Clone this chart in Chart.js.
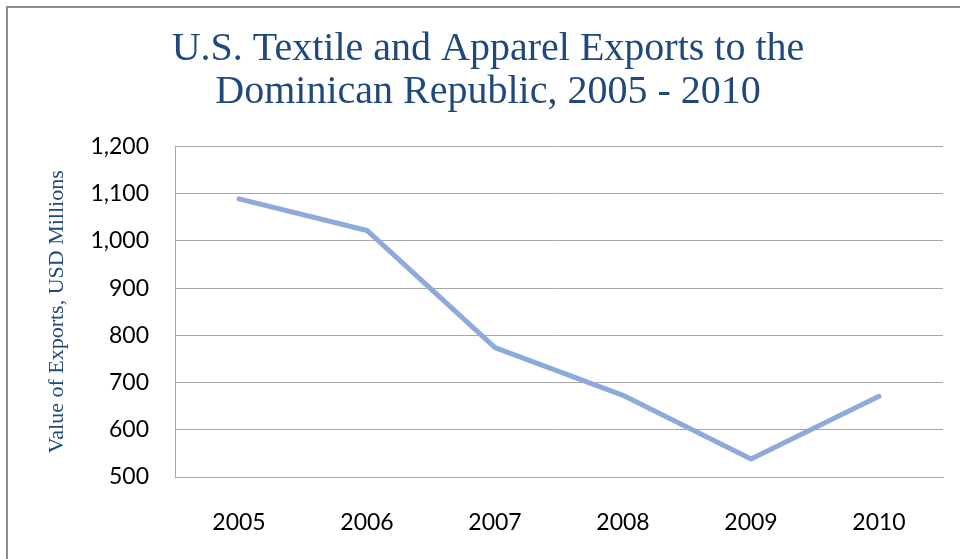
<!DOCTYPE html>
<html>
<head>
<meta charset="utf-8">
<script src="https://cdn.jsdelivr.net/npm/chart.js@4"></script>
<style>
  html, body { margin: 0; padding: 0; background: #fff; }
  #wrap { position: relative; width: 960px; height: 559px; }
  #frame { position: absolute; left: 6px; top: 6px; right: 0; bottom: 0;
           border-top: 2px solid #8c8c8c; border-left: 2px solid #8c8c8c; pointer-events: none; }
</style>
</head>
<body>
<div id="wrap">
  <canvas id="chart" width="960" height="559"></canvas>
  <div id="frame"></div>
</div>
<script>
// ------- Data -------
const years = ['2005', '2006', '2007', '2008', '2009', '2010'];
const exportsUsdMillions = [1089, 1022, 774, 673, 538, 671];
const yTicks = [500, 600, 700, 800, 900, 1000, 1100, 1200];

const titleLines = ['U.S. Textile and Apparel Exports to the', 'Dominican Republic, 2005 - 2010'];
const yAxisTitle = 'Value of Exports, USD Millions';

const navy = '#1F497D';
const gridGray = '#A6A6A6';

new Chart(document.getElementById('chart').getContext('2d'), {
  type: 'line',
  data: {
    labels: years,
    datasets: [{
      data: exportsUsdMillions,
      borderColor: '#8EAADB',
      borderWidth: 5,
      borderCapStyle: 'round',
      borderJoinStyle: 'round',
      pointRadius: 0,
      tension: 0,
      fill: false
    }]
  },
  options: {
    responsive: false,
    animation: false,
    // left padding nudges the title centre to the right, like the original
    layout: { padding: { left: 33, right: 17, top: 0, bottom: 0 } },
    plugins: {
      legend: { display: false },
      tooltip: { enabled: false },
      title: {
        display: true,
        text: titleLines,
        color: navy,
        font: { family: '"Liberation Serif", serif', size: 40, weight: 'normal', lineHeight: 1.08 },
        padding: { top: 28, bottom: 32 }
      }
    },
    scales: {
      x: {
        offset: true,
        grid: { display: false, drawTicks: false },
        border: { display: true, color: gridGray, width: 1 },
        ticks: {
          color: '#000',
          padding: 32,
          maxRotation: 0,
          font: { family: 'Lato, sans-serif', size: 23 }
        },
        afterFit(scale) { scale.height = 82; }
      },
      y: {
        min: 500,
        max: 1200,
        afterBuildTicks(scale) { scale.ticks = yTicks.map(v => ({ value: v })); },
        grid: { color: gridGray, lineWidth: 1, drawTicks: false },
        border: { display: true, color: gridGray, width: 1 },
        ticks: {
          color: '#000',
          padding: 26,
          font: { family: 'Lato, sans-serif', size: 23 },
          callback: v => Number(v).toLocaleString('en-US')
        },
        title: {
          display: true,
          text: yAxisTitle,
          color: navy,
          font: { family: '"Liberation Serif", serif', size: 22, lineHeight: 1.2 },
          padding: { top: 11, bottom: 0 }
        },
        afterFit(scale) { scale.width = 142; }
      }
    }
  }
});
</script>
</body>
</html>
